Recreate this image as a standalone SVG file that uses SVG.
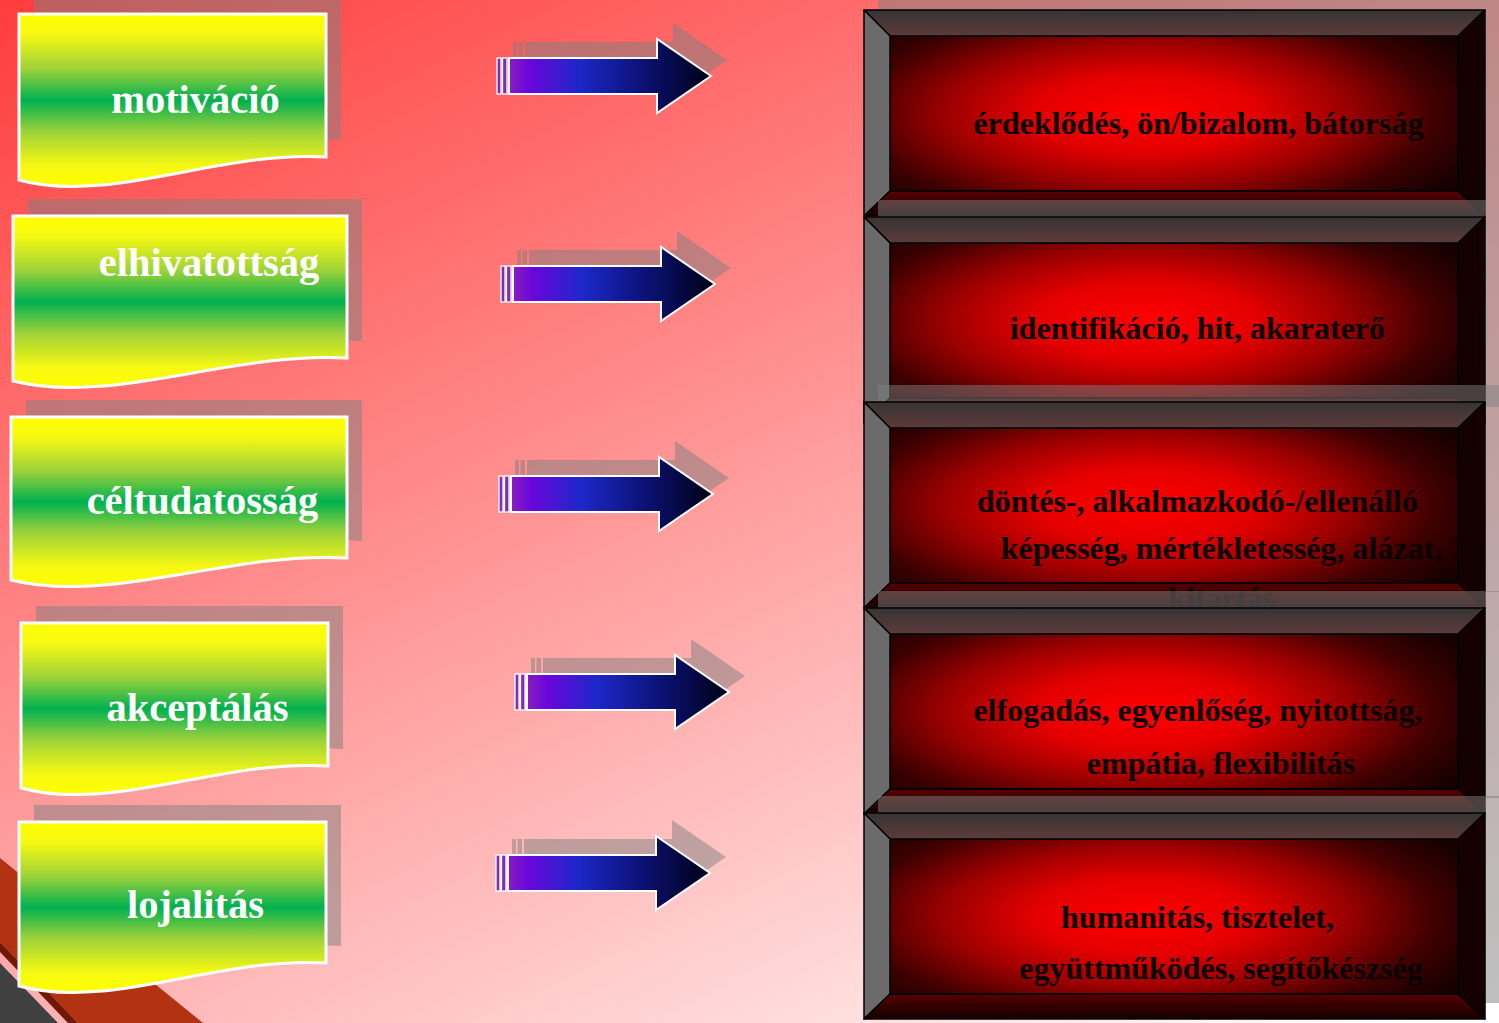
<svg xmlns="http://www.w3.org/2000/svg" xmlns:xlink="http://www.w3.org/1999/xlink" width="1499" height="1023" viewBox="0 0 1499 1023">
<style>
.lbl{font-family:"Liberation Serif",serif;font-weight:bold;font-size:40.5px;fill:#ffffff;text-anchor:middle}
.btxt{font-family:"Liberation Serif",serif;font-weight:bold;font-size:32px;fill:#0a0000;text-anchor:middle}
.doc{fill:url(#ygGrad);stroke:#ffffff;stroke-width:3}
.shadow{fill:#808080;opacity:0.5}
.bv{stroke:#000000;stroke-width:1.5;stroke-linejoin:round}
.stripe{fill:#7a30b0;stroke:#ffffff;stroke-width:1.3}
.abody{fill:url(#arrowGrad);stroke:#ffffff;stroke-width:2}
</style>
<defs>
<linearGradient id="bgGrad" gradientUnits="userSpaceOnUse" x1="0" y1="0" x2="669" y2="1393">
<stop offset="0" stop-color="#ff3c3c"/>
<stop offset="1" stop-color="#ffffff"/>
</linearGradient>
<linearGradient id="ygGrad" x1="0" y1="0" x2="0" y2="1">
<stop offset="0" stop-color="#ffff00"/>
<stop offset="0.12" stop-color="#f6f812"/>
<stop offset="0.32" stop-color="#9cd23a"/>
<stop offset="0.5" stop-color="#00b050"/>
<stop offset="0.68" stop-color="#9cd23a"/>
<stop offset="0.88" stop-color="#f6f812"/>
<stop offset="1" stop-color="#ffff00"/>
</linearGradient>
<linearGradient id="arrowGrad" x1="0" y1="0" x2="1" y2="0">
<stop offset="0" stop-color="#8a1cc0"/>
<stop offset="0.1" stop-color="#6a06dc"/>
<stop offset="0.35" stop-color="#1c28c8"/>
<stop offset="0.65" stop-color="#0c1278"/>
<stop offset="1" stop-color="#000014"/>
</linearGradient>
<radialGradient id="redGlow" cx="0.45" cy="0.5" r="0.64" gradientTransform="translate(0.45 0.5) scale(1 1.3) translate(-0.45 -0.5)">
<stop offset="0" stop-color="#ff0000"/>
<stop offset="0.3" stop-color="#e40000"/>
<stop offset="0.55" stop-color="#9c0000"/>
<stop offset="0.8" stop-color="#3e0000"/>
<stop offset="1" stop-color="#160000"/>
</radialGradient>
<linearGradient id="topBevel" x1="0" y1="0" x2="0" y2="1">
<stop offset="0" stop-color="#363434"/>
<stop offset="1" stop-color="#5e3a3a"/>
</linearGradient>
<linearGradient id="botBevel" x1="0" y1="0" x2="0" y2="1">
<stop offset="0" stop-color="#560000"/>
<stop offset="1" stop-color="#160000"/>
</linearGradient>
<g id="bevel">
<rect class="bv" x="26" y="26" width="568" height="155" fill="url(#redGlow)"/>
<polygon class="bv" points="0,0 621,0 594,26 26,26" fill="url(#topBevel)"/>
<polygon class="bv" points="0,0 26,26 26,181 0,206" fill="#6b6b6b"/>
<polygon class="bv" points="621,0 621,206 594,181 594,26" fill="#140000"/>
<polygon class="bv" points="0,206 26,181 594,181 621,206" fill="url(#botBevel)"/>
</g>
<rect id="boxShadow" x="14" y="-17" width="621" height="207"/>
<path id="arrowBody" d="M12,-18 H160 V-37 L214,0 L160,37 V18 H12 Z"/>
<g id="arrowGeom">
<rect x="0" y="-18" width="4" height="36"/>
<rect x="5.5" y="-18" width="4.5" height="36"/>
<use xlink:href="#arrowBody" href="#arrowBody"/>
</g>
<g id="arrowFront">
<rect class="stripe" x="0" y="-18" width="4" height="36"/>
<rect class="stripe" x="5.5" y="-18" width="4.5" height="36"/>
<use class="abody" xlink:href="#arrowBody" href="#arrowBody"/>
</g>
</defs>

<g id="background">
<rect x="0" y="0" width="1499" height="1023" fill="url(#bgGrad)"/>
<polygon points="0,858 203,1023 78,1023 0,942" fill="#b33212"/>
<polygon points="0,942 78,1023 68,1023 0,952" fill="#701808"/>
<polygon points="0,963 58,1023 0,1023" fill="#404040"/>
</g>

<g id="node-motivacio">
<path class="shadow" transform="translate(15,-17)" d="M19,14 H326 V157 C220,150 110,205 19,180 Z"/>
<path class="doc" d="M19,14 H326 V157 C220,150 110,205 19,180 Z"/>
<text class="lbl" x="195.5" y="113">motiváció</text>
</g>
<g id="node-elhivatottsag">
<path class="shadow" transform="translate(15,-17)" d="M13,216 H347 V358 C232,351 112,406 13,381 Z"/>
<path class="doc" d="M13,216 H347 V358 C232,351 112,406 13,381 Z"/>
<text class="lbl" x="209" y="276">elhivatottság</text>
</g>
<g id="node-celtudatossag">
<path class="shadow" transform="translate(15,-17)" d="M11,417 H347 V558 C231,551 110,605 11,580 Z"/>
<path class="doc" d="M11,417 H347 V558 C231,551 110,605 11,580 Z"/>
<text class="lbl" x="202.5" y="514">céltudatosság</text>
</g>
<g id="node-akceptalas">
<path class="shadow" transform="translate(15,-17)" d="M21,623 H328 V766 C222,759 112,813 21,788 Z"/>
<path class="doc" d="M21,623 H328 V766 C222,759 112,813 21,788 Z"/>
<text class="lbl" x="197.5" y="721">akceptálás</text>
</g>
<g id="node-lojalitas">
<path class="shadow" transform="translate(15,-17)" d="M19,822 H326 V963 C220,956 110,1011 19,986 Z"/>
<path class="doc" d="M19,822 H326 V963 C220,956 110,1011 19,986 Z"/>
<text class="lbl" x="195.5" y="918">lojalitás</text>
</g>

<g id="connectors">
<g transform="translate(497,76)">
<use class="shadow" xlink:href="#arrowGeom" href="#arrowGeom" transform="translate(16,-16)"/>
<use xlink:href="#arrowFront" href="#arrowFront"/>
</g>
<g transform="translate(501,284)">
<use class="shadow" xlink:href="#arrowGeom" href="#arrowGeom" transform="translate(16,-16)"/>
<use xlink:href="#arrowFront" href="#arrowFront"/>
</g>
<g transform="translate(499,494)">
<use class="shadow" xlink:href="#arrowGeom" href="#arrowGeom" transform="translate(16,-16)"/>
<use xlink:href="#arrowFront" href="#arrowFront"/>
</g>
<g transform="translate(515,692)">
<use class="shadow" xlink:href="#arrowGeom" href="#arrowGeom" transform="translate(16,-16)"/>
<use xlink:href="#arrowFront" href="#arrowFront"/>
</g>
<g transform="translate(496,873)">
<use class="shadow" xlink:href="#arrowGeom" href="#arrowGeom" transform="translate(16,-16)"/>
<use xlink:href="#arrowFront" href="#arrowFront"/>
</g>
</g>

<g id="box-1">
<use class="shadow" xlink:href="#boxShadow" href="#boxShadow" transform="translate(864,10)"/>
<use xlink:href="#bevel" href="#bevel" transform="translate(864,10)"/>
<text class="btxt" x="1198.5" y="134">érdeklődés, ön/bizalom, bátorság</text>
</g>
<g id="box-2">
<use class="shadow" xlink:href="#boxShadow" href="#boxShadow" transform="translate(864,217)"/>
<use xlink:href="#bevel" href="#bevel" transform="translate(864,217)"/>
<text class="btxt" x="1197.5" y="339">identifikáció, hit, akaraterő</text>
</g>
<g id="box-3">
<use class="shadow" xlink:href="#boxShadow" href="#boxShadow" transform="translate(864,402)"/>
<use xlink:href="#bevel" href="#bevel" transform="translate(864,402)"/>
<text class="btxt" x="1197.5" y="512">döntés-, alkalmazkodó-/ellenálló</text>
<text class="btxt" x="1221.5" y="559">képesség, mértékletesség, alázat,</text>
<text class="btxt" x="1221.5" y="609">kitartás</text>
</g>
<g id="box-4">
<use class="shadow" xlink:href="#boxShadow" href="#boxShadow" transform="translate(864,608)"/>
<use xlink:href="#bevel" href="#bevel" transform="translate(864,608)"/>
<text class="btxt" x="1198" y="721">elfogadás, egyenlőség, nyitottság,</text>
<text class="btxt" x="1221" y="774">empátia, flexibilitás</text>
</g>
<g id="box-5">
<use class="shadow" xlink:href="#boxShadow" href="#boxShadow" transform="translate(864,813)"/>
<use xlink:href="#bevel" href="#bevel" transform="translate(864,813)"/>
<text class="btxt" x="1197.5" y="928">humanitás, tisztelet,</text>
<text class="btxt" x="1221" y="979">együttműködés, segítőkészség</text>
</g>
</svg>
